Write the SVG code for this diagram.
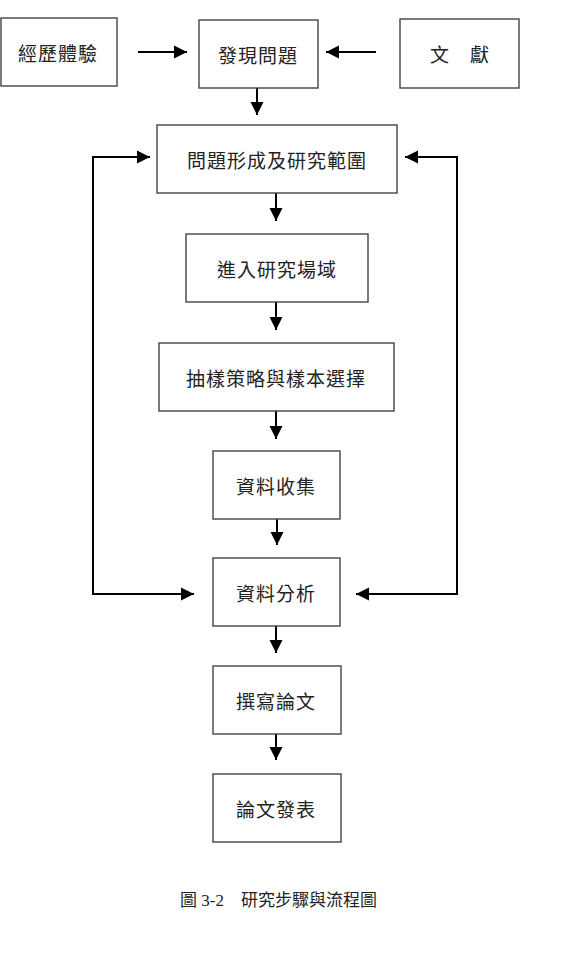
<svg xmlns="http://www.w3.org/2000/svg" width="562" height="962" viewBox="0 0 562 962">
<style>
.box{fill:#fff;stroke:#444;stroke-width:1.4}
.t{font-family:"Noto Sans CJK TC","Noto Sans CJK SC",sans-serif;font-size:19px;fill:#222;text-anchor:middle;dominant-baseline:central;letter-spacing:1px}
.c{stroke:#000;stroke-width:2;fill:none}
.cap{font-family:"Liberation Serif","Noto Sans CJK TC",serif;font-size:17px;fill:#222}
</style>
<defs>
<marker id="ah" markerUnits="userSpaceOnUse" markerWidth="14" markerHeight="14" refX="13" refY="7" orient="auto">
<path d="M0,0.5 L13,7 L0,13.5 Z" fill="#000"/>
</marker>
</defs>
<g id="connectors">
<line class="c" x1="138" y1="52" x2="187" y2="52" marker-end="url(#ah)"/>
<line class="c" x1="376" y1="52" x2="326" y2="52" marker-end="url(#ah)"/>
<line class="c" x1="257" y1="88" x2="257" y2="115" marker-end="url(#ah)"/>
<line class="c" x1="276" y1="193" x2="276" y2="221" marker-end="url(#ah)"/>
<line class="c" x1="276" y1="302" x2="276" y2="330" marker-end="url(#ah)"/>
<line class="c" x1="276" y1="411" x2="276" y2="439" marker-end="url(#ah)"/>
<line class="c" x1="277" y1="519" x2="277" y2="545" marker-end="url(#ah)"/>
<line class="c" x1="276" y1="626" x2="276" y2="653" marker-end="url(#ah)"/>
<line class="c" x1="276" y1="734" x2="276" y2="760" marker-end="url(#ah)"/>
<polyline class="c" points="194,594 93,594 93,157 150,157" marker-end="url(#ah)"/>
<line class="c" x1="93" y1="594" x2="194" y2="594" marker-end="url(#ah)"/>
<polyline class="c" points="405,157 457,157 457,594 356,594" marker-end="url(#ah)"/>
<line class="c" x1="457" y1="157" x2="405" y2="157" marker-end="url(#ah)"/>
</g>
<g id="n1"><rect class="box" x="1" y="18" width="116" height="68"/><text class="t" x="58" y="52">經歷體驗</text></g>
<g id="n2"><rect class="box" x="199" y="20" width="119" height="68"/><text class="t" x="258" y="54">發現問題</text></g>
<g id="n3"><rect class="box" x="400" y="19" width="119" height="69"/><text class="t" x="460" y="53">文　獻</text></g>
<g id="n4"><rect class="box" x="157" y="125" width="240" height="68"/><text class="t" x="277" y="159">問題形成及研究範圍</text></g>
<g id="n5"><rect class="box" x="186" y="234" width="182" height="68"/><text class="t" x="277" y="268">進入研究場域</text></g>
<g id="n6"><rect class="box" x="159" y="343" width="235" height="68"/><text class="t" x="276" y="377">抽樣策略與樣本選擇</text></g>
<g id="n7"><rect class="box" x="213" y="451" width="127" height="68"/><text class="t" x="276" y="485">資料收集</text></g>
<g id="n8"><rect class="box" x="213" y="558" width="127" height="68"/><text class="t" x="276" y="592">資料分析</text></g>
<g id="n9"><rect class="box" x="213" y="666" width="128" height="68"/><text class="t" x="276" y="700">撰寫論文</text></g>
<g id="n10"><rect class="box" x="213" y="774" width="128" height="68"/><text class="t" x="276" y="808">論文發表</text></g>
<g id="caption"><text class="cap" x="180" y="906">圖 3-2　研究步驟與流程圖</text></g>
</svg>
